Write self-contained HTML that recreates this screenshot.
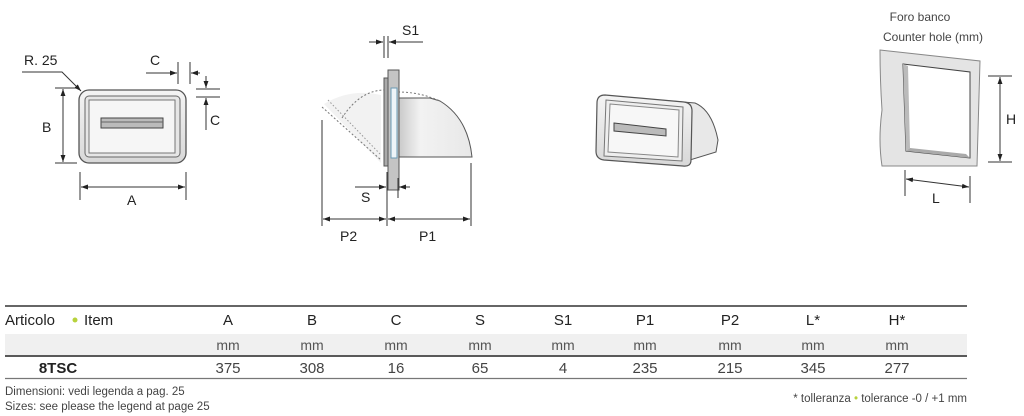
<!DOCTYPE html>
<html><head><meta charset="utf-8"><style>
html,body{margin:0;padding:0;background:#fff;}
svg{display:block;font-family:"Liberation Sans",Arial,sans-serif;}
</style></head><body>
<svg width="1024" height="416" viewBox="0 0 1024 416" xmlns="http://www.w3.org/2000/svg">
<defs>
<marker id="ar" viewBox="0 0 10 10" refX="10" refY="5" markerWidth="7" markerHeight="7" orient="auto-start-reverse"><path d="M0,1.5 L10,5 L0,8.5 z" fill="#222"/></marker>
<linearGradient id="g1" x1="0" y1="0" x2="0" y2="1"><stop offset="0" stop-color="#f4f4f4"/><stop offset="1" stop-color="#d8d8d8"/></linearGradient>
<linearGradient id="g2" x1="0" y1="0" x2="1" y2="0"><stop offset="0" stop-color="#c8c8c8"/><stop offset="0.3" stop-color="#f2f2f2"/><stop offset="1" stop-color="#e8e8e8"/></linearGradient>
</defs>
<g stroke="#333" fill="none" stroke-width="1">
<!-- Fig 1 -->
<rect x="79" y="90" width="107" height="73" rx="10" fill="url(#g1)" stroke="#555" stroke-width="1.3"/>
<rect x="85" y="96" width="95" height="61" rx="4" fill="#e6e6e6" stroke="#666"/>
<rect x="89" y="100" width="86" height="53" fill="#f6f6f6" stroke="#777"/>
<rect x="101" y="118" width="62" height="10" fill="#bbb" stroke="#444"/>
<line x1="101" y1="122" x2="163" y2="122" stroke="#666"/>
<line x1="55" y1="88" x2="77" y2="88"/><line x1="55" y1="163" x2="77" y2="163"/>
<line x1="63" y1="89" x2="63" y2="162" marker-start="url(#ar)" marker-end="url(#ar)"/>
<line x1="80" y1="172" x2="80" y2="200"/><line x1="186" y1="172" x2="186" y2="200"/>
<line x1="81" y1="187" x2="185" y2="187" marker-start="url(#ar)" marker-end="url(#ar)"/>
<polyline points="22,72 62,72 81,91" marker-end="url(#ar)"/>
<line x1="178" y1="62" x2="178" y2="84"/><line x1="190" y1="62" x2="190" y2="84"/>
<line x1="146" y1="73" x2="177" y2="73" marker-end="url(#ar)"/><line x1="200" y1="73" x2="191" y2="73" marker-end="url(#ar)"/>
<line x1="196" y1="89" x2="220" y2="89"/><line x1="196" y1="97" x2="220" y2="97"/>
<line x1="206" y1="76" x2="206" y2="88" marker-end="url(#ar)"/><line x1="206" y1="130" x2="206" y2="98" marker-end="url(#ar)"/>
<!-- Fig 2 -->
<path d="M324,104 L381,163 L381,95 Q350,88 324,104 z" fill="#f2f2f2" stroke="none"/>
<path d="M342,118 Q360,90 385,90" stroke="#777" stroke-dasharray="2,2"/>
<path d="M322,107 L381,160" stroke="#777" stroke-dasharray="2,2"/>
<path d="M328,100 L381,155" stroke="#999" stroke-dasharray="1.5,2"/>
<path d="M398,98 L430,98 L440,101 Q468,118 472,157 L398,157 z" fill="url(#g2)" stroke="#555"/>
<path d="M398,92 Q420,92 440,101" stroke="#777" stroke-dasharray="2,2"/>
<rect x="384" y="78" width="4" height="88" fill="#aaa" stroke="#555"/>
<rect x="388" y="70" width="11" height="120" fill="#c4c4c4" stroke="#555"/>
<rect x="391" y="88" width="6" height="70" fill="#eef4f8" stroke="#6a9ab5"/>
<line x1="384" y1="36" x2="384" y2="58"/><line x1="388" y1="36" x2="388" y2="58"/>
<line x1="369" y1="42" x2="383" y2="42" marker-end="url(#ar)"/><line x1="423" y1="42" x2="389" y2="42" marker-end="url(#ar)"/>
<line x1="387" y1="172" x2="387" y2="226"/><line x1="398" y1="178" x2="398" y2="198"/>
<line x1="355" y1="187" x2="386" y2="187" marker-end="url(#ar)"/><line x1="410" y1="187" x2="399" y2="187" marker-end="url(#ar)"/>
<line x1="322" y1="120" x2="322" y2="226"/><line x1="471" y1="163" x2="471" y2="226"/>
<line x1="323" y1="219" x2="386" y2="219" marker-start="url(#ar)" marker-end="url(#ar)"/>
<line x1="388" y1="219" x2="470" y2="219" marker-start="url(#ar)" marker-end="url(#ar)"/>
<!-- Fig 3 -->
<path d="M612,96 L695,103 Q712,110 718,140 L716,152 L690,160 Z" fill="#e8e8e8" stroke="#555"/>
<path d="M605,95 L684,102 Q692,103 692,111 L691,160 Q691,167 683,166 L604,160 Q596,159 596,151 L597,103 Q597,95 605,95 Z" fill="url(#g1)" stroke="#555" stroke-width="1.2"/>
<path d="M606,100 L683,107 L682,161 L604,156 Z" fill="#eee" stroke="#777"/>
<path d="M610,104 L679,110 L678,157 L608,152 Z" fill="#f7f7f7" stroke="#888"/>
<path d="M614,123 L666,129 L666,136 L614,131 Z" fill="#bbb" stroke="#444"/>
<!-- Fig 4 -->
<path d="M880,50 L980,61 L977,166 L882,166 Q878,140 882,110 Q880,80 880,50 z" fill="#e4e4e4" stroke="#888"/>
<path d="M903,64 L970,72 L970,158 L906,151 Z" fill="#fff" stroke="#444"/>
<path d="M903,64 L908,66 L910,148 L906,151 Z" fill="#bbb" stroke="none"/>
<path d="M906,151 L970,158 L966,154 L910,148 Z" fill="#aaa" stroke="none"/>
<line x1="988" y1="76" x2="1012" y2="76"/><line x1="988" y1="162" x2="1012" y2="162"/>
<line x1="1000" y1="77" x2="1000" y2="161" marker-start="url(#ar)" marker-end="url(#ar)"/>
<line x1="905" y1="170" x2="905" y2="196"/><line x1="970" y1="176" x2="970" y2="203"/>
<line x1="906" y1="179" x2="969" y2="187" marker-start="url(#ar)" marker-end="url(#ar)"/>
</g>
<g font-size="14" fill="#222">
<text x="24" y="65">R. 25</text>
<text x="150" y="65">C</text>
<text x="210" y="125">C</text>
<text x="42" y="132">B</text>
<text x="127" y="205">A</text>
<text x="402" y="35">S1</text>
<text x="361" y="202">S</text>
<text x="340" y="241">P2</text>
<text x="419" y="241">P1</text>
<text x="1006" y="124">H</text>
<text x="932" y="203">L</text>
</g>
<g font-size="12" fill="#444" text-anchor="middle">
<text x="920" y="21">Foro banco</text>
<text x="933" y="41">Counter hole (mm)</text>
</g>
<!-- Table -->
<line x1="5" y1="306" x2="967" y2="306" stroke="#333" stroke-width="1.5"/>
<rect x="5" y="334" width="962" height="21" fill="#f0f0f0"/>
<line x1="5" y1="356" x2="967" y2="356" stroke="#222" stroke-width="1.5"/>
<line x1="5" y1="378.5" x2="967" y2="378.5" stroke="#777" stroke-width="1.2"/>
<g font-size="15" fill="#222">
<text x="5" y="325">Articolo</text>
<circle cx="75" cy="320" r="2.5" fill="#b7d23c"/>
<text x="84" y="325">Item</text>
</g>
<g font-size="15" fill="#222" text-anchor="middle">
<text x="228" y="325">A</text><text x="312" y="325">B</text><text x="396" y="325">C</text><text x="480" y="325">S</text><text x="563" y="325">S1</text><text x="645" y="325">P1</text><text x="730" y="325">P2</text><text x="813" y="325">L*</text><text x="897" y="325">H*</text>
</g>
<g font-size="14" fill="#555" text-anchor="middle">
<text x="228" y="350">mm</text><text x="312" y="350">mm</text><text x="396" y="350">mm</text><text x="480" y="350">mm</text><text x="563" y="350">mm</text><text x="645" y="350">mm</text><text x="730" y="350">mm</text><text x="813" y="350">mm</text><text x="897" y="350">mm</text>
</g>
<g font-size="15" fill="#444" text-anchor="middle">
<text x="58" y="373" font-weight="bold" fill="#222">8TSC</text>
<text x="228" y="373">375</text><text x="312" y="373">308</text><text x="396" y="373">16</text><text x="480" y="373">65</text><text x="563" y="373">4</text><text x="645" y="373">235</text><text x="730" y="373">215</text><text x="813" y="373">345</text><text x="897" y="373">277</text>
</g>
<g font-size="11.5" fill="#444">
<text x="5" y="395">Dimensioni: vedi legenda a pag. 25</text>
<text x="5" y="410">Sizes: see please the legend at page 25</text>
<text x="967" y="402" text-anchor="end">* tolleranza <tspan fill="#b7d23c">•</tspan> tolerance -0 / +1 mm</text>
</g>
</svg>
</body></html>
